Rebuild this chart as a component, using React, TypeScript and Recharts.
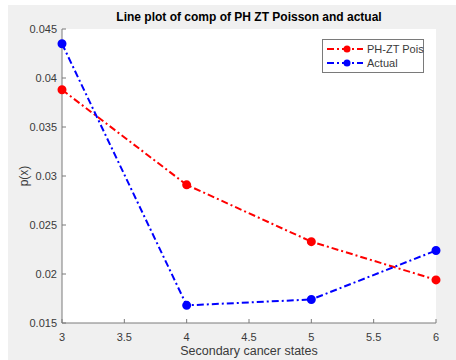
import React from "react";
import { LineChart, Line, XAxis, YAxis, Legend } from "recharts";

const states = [3, 4, 5, 6];
const phZtPois = [0.0388, 0.0291, 0.0233, 0.0194];
const actual = [0.0435, 0.0168, 0.0174, 0.0224];
const xTicks = [3, 3.5, 4, 4.5, 5, 5.5, 6];
const yTicks = [0.015, 0.02, 0.025, 0.03, 0.035, 0.04, 0.045];

const seriesNames = ["PH-ZT Pois", "Actual"];
const seriesColors = ["#ff0000", "#0000ff"];

const data = states.map((s, i) => ({ state: s, pois: phZtPois[i], actual: actual[i] }));

const FONT = '"Liberation Sans", Arial, sans-serif';
const AXIS = "#7a7a7a";
const TEXT = "#3a3a3a";
const DASH = "7 3 2 3";

function BottomTick(props: any) {
  const { x, y, payload } = props;
  return (
    <g>
      <line x1={x} y1={y} x2={x} y2={y - 4} stroke={AXIS} />
      <text x={x} y={y + 18} textAnchor="middle" fontSize={11} fill={TEXT} fontFamily={FONT}>
        {String(payload.value)}
      </text>
    </g>
  );
}

function LeftTick(props: any) {
  const { x, y, payload } = props;
  return (
    <g>
      <line x1={x} y1={y} x2={x + 4} y2={y} stroke={AXIS} />
      <text x={x - 5} y={y + 4} textAnchor="end" fontSize={11} fill={TEXT} fontFamily={FONT}>
        {String(payload.value)}
      </text>
    </g>
  );
}

function TopTick(props: any) {
  const { x, y } = props;
  return <line x1={x} y1={y} x2={x} y2={y + 4} stroke={AXIS} />;
}

function RightTick(props: any) {
  const { x, y } = props;
  return <line x1={x} y1={y} x2={x - 4} y2={y} stroke={AXIS} />;
}

function LegendBox() {
  return (
    <svg width={102} height={34} style={{ display: "block" }}>
      <rect x={0.5} y={0.5} width={101} height={33} fill="#fff" stroke={AXIS} />
      {seriesNames.map((name, i) => {
        const cy = 10 + i * 14;
        return (
          <g key={name}>
            <line x1={5} y1={cy} x2={41} y2={cy} stroke={seriesColors[i]} strokeWidth={2} strokeDasharray={DASH} />
            <circle cx={25} cy={cy} r={3.5} fill={seriesColors[i]} />
            <text x={45} y={cy + 4} fontSize={11} fill={TEXT} fontFamily={FONT}>
              {name}
            </text>
          </g>
        );
      })}
    </svg>
  );
}

export default function App() {
  return (
    <div style={{ position: "absolute", left: 8, top: 5, width: 448, height: 355, background: "#f0f0f0", fontFamily: FONT }}>
      <div style={{ position: "absolute", left: 54, width: 374, top: 5, textAlign: "center", fontWeight: "bold", fontSize: 12, color: "#000" }}>
        Line plot of comp of PH ZT Poisson and actual
      </div>
      <div style={{ position: "absolute", left: 54, width: 374, top: 339, textAlign: "center", fontSize: 12.5, color: TEXT }}>
        Secondary cancer states
      </div>
      <div style={{ position: "absolute", left: 16 - 30, top: 172 - 8, width: 60, textAlign: "center", fontSize: 12, color: TEXT, transform: "rotate(-90deg)" }}>
        p(x)
      </div>
      <LineChart width={448} height={355} data={data} margin={{ top: 24, right: 20, left: 0, bottom: 0 }}>
        <rect x={54} y={24} width={374} height={294} fill="#fff" />
        <XAxis
          dataKey="state"
          type="number"
          domain={[3, 6]}
          ticks={xTicks}
          height={37}
          tickSize={0}
          tickMargin={0}
          tick={<BottomTick />}
          axisLine={{ stroke: AXIS }}
          tickLine={false}
        />
        <XAxis
          xAxisId="top"
          orientation="top"
          dataKey="state"
          type="number"
          domain={[3, 6]}
          ticks={xTicks}
          height={0}
          tickSize={0}
          tickMargin={0}
          tick={<TopTick />}
          axisLine={{ stroke: AXIS }}
          tickLine={false}
        />
        <YAxis
          type="number"
          domain={[0.015, 0.045]}
          ticks={yTicks}
          width={54}
          tickSize={0}
          tickMargin={0}
          tick={<LeftTick />}
          axisLine={{ stroke: AXIS }}
          tickLine={false}
        />
        <YAxis
          yAxisId="right"
          orientation="right"
          type="number"
          domain={[0.015, 0.045]}
          ticks={yTicks}
          width={0}
          tickSize={0}
          tickMargin={0}
          tick={<RightTick />}
          axisLine={{ stroke: AXIS }}
          tickLine={false}
        />
        <Line
          dataKey="pois"
          name={seriesNames[0]}
          stroke={seriesColors[0]}
          strokeWidth={2}
          strokeDasharray={DASH}
          dot={{ r: 3.5, fill: seriesColors[0], stroke: seriesColors[0], strokeDasharray: "" }}
          isAnimationActive={false}
        />
        <Line
          dataKey="actual"
          name={seriesNames[1]}
          stroke={seriesColors[1]}
          strokeWidth={2}
          strokeDasharray={DASH}
          dot={{ r: 3.5, fill: seriesColors[1], stroke: seriesColors[1], strokeDasharray: "" }}
          isAnimationActive={false}
        />
        <Legend
          layout="vertical"
          align="center"
          verticalAlign="middle"
          content={<LegendBox />}
          wrapperStyle={{ left: 314, top: 34, width: 102, height: 34 }}
        />
      </LineChart>
    </div>
  );
}
